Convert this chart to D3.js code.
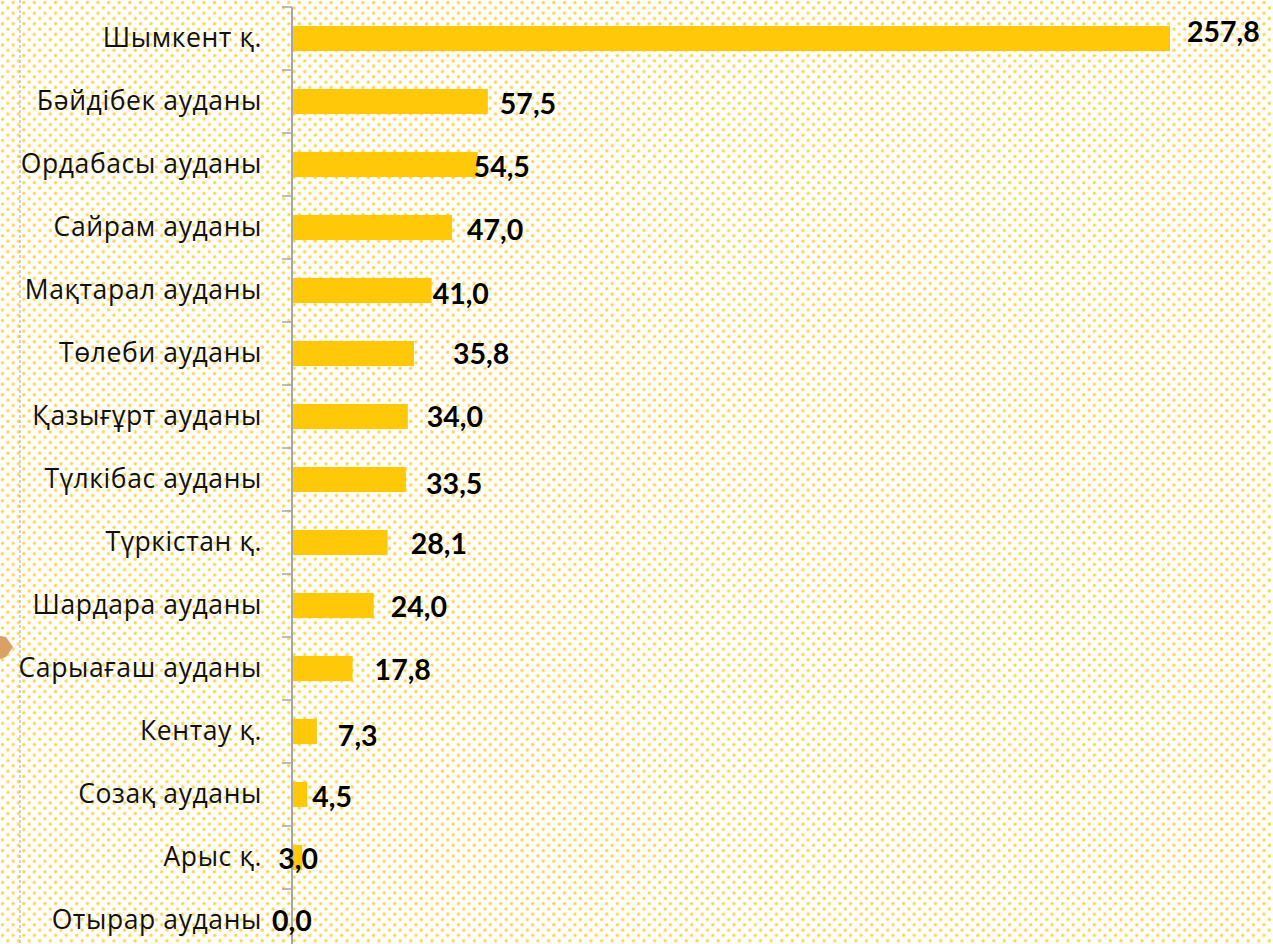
<!DOCTYPE html>
<html><head><meta charset="utf-8">
<script src="https://cdn.jsdelivr.net/npm/d3@7"></script>
<style>html,body{margin:0;padding:0;background:#fff;overflow:hidden}</style>
</head><body>
<svg id="c" width="1273" height="944"></svg>
<script>
const categories = ["Шымкент қ.","Бәйдібек ауданы","Ордабасы ауданы","Сайрам ауданы","Мақтарал ауданы","Төлеби ауданы","Қазығұрт ауданы","Түлкібас ауданы","Түркістан қ.","Шардара ауданы","Сарыағаш ауданы","Кентау қ.","Созақ ауданы","Арыс қ.","Отырар ауданы"];
const values = [257.8,57.5,54.5,47.0,41.0,35.8,34.0,33.5,28.1,24.0,17.8,7.3,4.5,3.0,0.0];
const valueLabels = ["257,8","57,5","54,5","47,0","41,0","35,8","34,0","33,5","28,1","24,0","17,8","7,3","4,5","3,0","0,0"];
// manual label nudges (layout, px)
const labelDx = [17,12,-4,15,1,39,19,20,23,17,22,21,5,-24,-20];
const labelDy = [-6.5,2.5,2.5,2.5,3.5,0.5,0.5,4,1,1.5,1.5,4.5,2,1.5,0.5];

const svg = d3.select("#c");
const defs = svg.append("defs");
const pat = defs.append("pattern").attr("id","dots").attr("patternUnits","userSpaceOnUse")
  .attr("width",10.6).attr("height",10.6);
const rg = defs.append("radialGradient").attr("id","dg");
rg.append("stop").attr("offset","0%").attr("stop-color","#ffcf2e");
rg.append("stop").attr("offset","60%").attr("stop-color","#ffdb66");
rg.append("stop").attr("offset","100%").attr("stop-color","#fff2c4").attr("stop-opacity",0);
pat.append("circle").attr("cx",2.6).attr("cy",2.6).attr("r",2.3).attr("fill","url(#dg)");
pat.append("circle").attr("cx",7.9).attr("cy",7.9).attr("r",2.3).attr("fill","url(#dg)");
svg.append("rect").attr("width",1273).attr("height",944).attr("fill","#fff");
svg.append("rect").attr("width",1273).attr("height",944).attr("fill","url(#dots)");

// decorative left dashed line and arrow tip
svg.append("line").attr("x1",20).attr("x2",20).attr("y1",0).attr("y2",944)
  .attr("stroke","#b5b5b5").attr("stroke-width",1.2).attr("stroke-dasharray","3,2");
svg.append("path").attr("d","M0,636 L6,637 L13,647 L6,657 L0,659 Z").attr("fill","#d9a068");

const axisX = 292;
const x = d3.scaleLinear().domain([0, 257.8]).range([axisX, 1170]);
const y = d3.scaleBand().domain(categories).range([7, 7 + 63*categories.length]).paddingInner(0.6).paddingOuter(0.3);

// bars
svg.append("g").selectAll("rect").data(values).join("rect")
  .attr("x", x(0)).attr("y",(d,i)=>y(categories[i]))
  .attr("width",d=>x(d)-x(0)).attr("height",y.bandwidth())
  .attr("fill","#ffc90a");

// axis line + boundary ticks
const step = y.step();
const y0 = y.range()[0];
svg.append("line").attr("x1",axisX).attr("x2",axisX).attr("y1",y0).attr("y2",944)
  .attr("stroke","#a6a6a6").attr("stroke-width",2);
svg.append("g").selectAll("line").data(d3.range(categories.length+1)).join("line")
  .attr("x1",axisX-10).attr("x2",axisX).attr("y1",i=>y0+i*step).attr("y2",i=>y0+i*step)
  .attr("stroke","#a6a6a6").attr("stroke-width",1.5);

// category labels
svg.append("g").selectAll("text").data(categories).join("text")
  .attr("x",262).attr("y",d=>y(d)+y.bandwidth()/2+8.5)
  .attr("text-anchor","end").attr("font-family","'Open Sans', sans-serif")
  .attr("font-size",26.5).attr("letter-spacing",0.6).attr("fill","#111").text(d=>d);

// value labels
svg.append("g").selectAll("text").data(values).join("text")
  .attr("x",(d,i)=>x(d)+labelDx[i])
  .attr("y",(d,i)=>y(categories[i])+y.bandwidth()/2+labelDy[i]+10)
  .attr("font-family","Lato, 'Open Sans', sans-serif").attr("font-weight","bold")
  .attr("font-size",28.5).attr("fill","#000").text((d,i)=>valueLabels[i]);
</script>
</body></html>
